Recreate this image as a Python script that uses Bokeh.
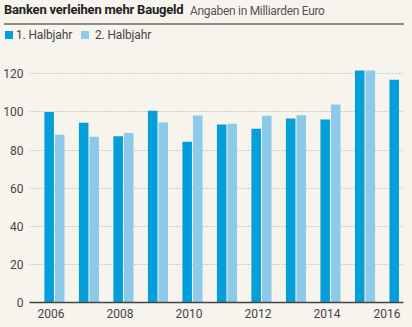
from bokeh.plotting import figure
from bokeh.models import ColumnDataSource, FixedTicker, Range1d, Div
from bokeh.layouts import column
from bokeh.transform import dodge
from bokeh.embed import file_html
from bokeh.resources import INLINE

years = [2006, 2007, 2008, 2009, 2010, 2011, 2012, 2013, 2014, 2015, 2016]
halbjahr1 = [100.0, 94.3, 87.3, 100.6, 84.4, 93.4, 91.2, 96.6, 96.1, 121.7, 116.9]
halbjahr2 = [88.0, 87.0, 88.9, 94.5, 98.2, 93.8, 98.0, 98.3, 103.9, 121.7, float("nan")]
y_ticks = [0, 20, 40, 60, 80, 100, 120]
x_tick_labels = ["2006", "2008", "2010", "2012", "2014", "2016"]

title_text = "Banken verleihen mehr Baugeld"
subtitle_text = "Angaben in Milliarden Euro"
series_names = ["1. Halbjahr", "2. Halbjahr"]

BG = "#f7f4ee"
C1 = "#049fd9"
C2 = "#8dc9e8"
FONT = "Roboto"

header_html = f"""
<div style="position:relative;width:412px;height:48px;background:{BG};font-family:{FONT},sans-serif;overflow:hidden;">
  <div style="position:absolute;left:4px;top:2px;font-size:13px;line-height:16px;font-weight:bold;letter-spacing:-0.2px;color:#222;white-space:nowrap;">{title_text}</div>
  <div style="position:absolute;left:190px;top:2.5px;font-size:12px;line-height:16px;letter-spacing:-0.3px;color:#555;white-space:nowrap;">{subtitle_text}</div>
  <div style="position:absolute;left:4px;top:23.3px;width:400px;height:1.5px;background:#8f8c88;"></div>
  <div style="position:absolute;left:5px;top:31px;width:8px;height:8px;background:{C1};"></div>
  <div style="position:absolute;left:16px;top:27px;font-size:12px;line-height:16px;letter-spacing:-0.15px;color:#444;white-space:nowrap;">{series_names[0]}</div>
  <div style="position:absolute;left:80.5px;top:31px;width:8px;height:8px;background:{C2};"></div>
  <div style="position:absolute;left:95px;top:27px;font-size:12px;line-height:16px;letter-spacing:-0.15px;color:#444;white-space:nowrap;">{series_names[1]}</div>
</div>
"""
header = Div(text=header_html, width=412, height=48, margin=0,
             styles={"background": BG})

source = ColumnDataSource(dict(year=years, h1=halbjahr1, h2=halbjahr2))

p = figure(width=412, height=279, output_backend="svg", toolbar_location=None,
           x_range=Range1d(2005.277, 2016.116), y_range=Range1d(0, 127),
           min_border_left=28, min_border_right=9, min_border_top=12,
           min_border_bottom=25, margin=0)
p.background_fill_color = BG
p.border_fill_color = BG
p.outline_line_color = None

p.vbar(x=dodge("year", -0.153), top="h1", width=0.277, source=source,
       fill_color=C1, line_color=None)
p.vbar(x=dodge("year", 0.153), top="h2", width=0.277, source=source,
       fill_color=C2, line_color=None)

p.yaxis.ticker = FixedTicker(ticks=y_ticks)
p.yaxis.axis_line_color = None
p.yaxis.major_tick_line_color = None
p.yaxis.major_tick_out = 0
p.yaxis.major_tick_in = 0
p.yaxis.minor_tick_line_color = None
p.yaxis.major_label_standoff = 6
p.yaxis.major_label_text_font = FONT
p.yaxis.major_label_text_font_size = "12px"
p.yaxis.major_label_text_color = "#444444"

label_years = [int(t) for t in x_tick_labels]
tick_pos = [y - 0.1 for y in label_years[:-1]] + [label_years[-1] - 0.36]
p.xaxis.ticker = FixedTicker(ticks=tick_pos)
p.xaxis.major_label_overrides = {t: s for t, s in zip(tick_pos, x_tick_labels)}
p.xaxis.axis_line_color = "#444444"
p.xaxis.axis_line_width = 1.5
p.xaxis.major_tick_line_color = None
p.xaxis.major_tick_out = 0
p.xaxis.major_tick_in = 0
p.xaxis.minor_tick_line_color = None
p.xaxis.major_label_standoff = 6
p.xaxis.major_label_text_font = FONT
p.xaxis.major_label_text_font_size = "12px"
p.xaxis.major_label_text_color = "#444444"

p.xgrid.grid_line_color = None
p.ygrid.ticker = FixedTicker(ticks=y_ticks[1:])
p.ygrid.grid_line_color = "#a9a6a0"
p.ygrid.grid_line_dash = "1 2"
p.ygrid.grid_line_width = 1

layout = column(header, p, spacing=0, margin=0, styles={"background": BG})

open("out.html", "w").write(file_html(layout, INLINE))
